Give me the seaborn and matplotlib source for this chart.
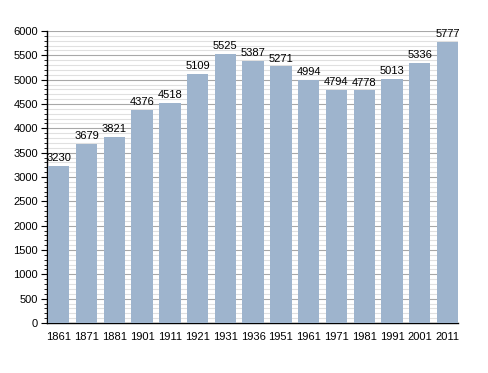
import numpy as np
import pandas as pd
import seaborn as sns
import matplotlib.pyplot as plt
from matplotlib.ticker import MultipleLocator

# data
years = ['1861', '1871', '1881', '1901', '1911', '1921', '1931', '1936',
         '1951', '1961', '1971', '1981', '1991', '2001', '2011']
population = [3230, 3679, 3821, 4376, 4518, 5109, 5525, 5387,
              5271, 4994, 4794, 4778, 5013, 5336, 5777]

df = pd.DataFrame({'year': years, 'pop': population})

sns.set_style('white')
plt.rcParams['font.family'] = ['Liberation Sans', 'DejaVu Sans']
plt.rcParams['text.color'] = 'black'
plt.rcParams['xtick.color'] = 'black'
plt.rcParams['ytick.color'] = 'black'

fig = plt.figure(figsize=(4.88, 3.73), dpi=100)
ax = fig.add_axes([0.0953, 0.134, 0.844, 0.783])

sns.barplot(data=df, x='year', y='pop', color='#9eb4cd', saturation=1,
            width=0.77, linewidth=0, ax=ax, zorder=3)

ax.set_ylim(0, 6000)
ax.set_xlim(-0.44, len(years) - 1 + 0.39)
ax.yaxis.set_major_locator(MultipleLocator(500))
ax.yaxis.set_minor_locator(MultipleLocator(100))
ax.grid(which='major', axis='y', color='#a8a8a8', linewidth=0.8, zorder=0)
ax.grid(which='minor', axis='y', color='#e0e0e0', linewidth=0.8, zorder=0)
ax.set_axisbelow(True)

for s in ['top', 'right']:
    ax.spines[s].set_visible(False)
for s in ['left', 'bottom']:
    ax.spines[s].set_color('black')
    ax.spines[s].set_linewidth(1.0)

ax.tick_params(axis='y', which='major', left=True, length=4, width=0.8,
               labelsize=8, pad=2)
ax.tick_params(axis='y', which='minor', left=True, length=2, width=0.6)
ax.tick_params(axis='x', bottom=False, labelsize=8, pad=3)
ax.set_xlabel('')
ax.set_ylabel('')

for i, v in enumerate(population):
    ax.text(i, v + 60, str(v), ha='center', va='bottom', fontsize=8)

fig.savefig('out.png', dpi=100)
